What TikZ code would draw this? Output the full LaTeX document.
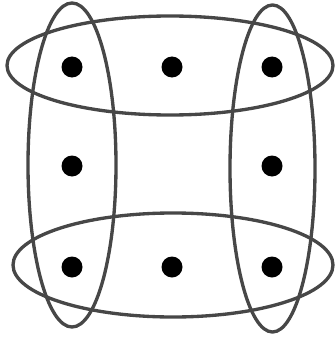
\documentclass[tikz,border=0pt]{standalone}
\usepackage{tikz}

\begin{document}
\begin{tikzpicture}[x=0.03cm,y=-0.03cm]
  \useasboundingbox (0,0) rectangle (334,340);
  \tikzset{dot/.style={circle,fill=black,inner sep=0pt,minimum size=0.63cm},
    loopline/.style={draw=black!72,line width=0.1cm}}
  \foreach \horizontal/\vertical/\name in {72/67/tl,172/67/tm,272/67/tr,72/166/ml,272/166/mr,72/267/bl,172/267/bm,272/267/br}
    \node[dot] (\name) at (\horizontal,\vertical) {};
  % rows
  \draw[loopline] (170,65.5) ellipse [x radius=163,y radius=49.5];
  \draw[loopline] (173,265) ellipse [x radius=160,y radius=52];
  % columns
  \draw[loopline] (72,165) ellipse [x radius=44,y radius=162];
  \draw[loopline] (272.5,168.5) ellipse [x radius=42.5,y radius=163.5];
\end{tikzpicture}
\end{document}
